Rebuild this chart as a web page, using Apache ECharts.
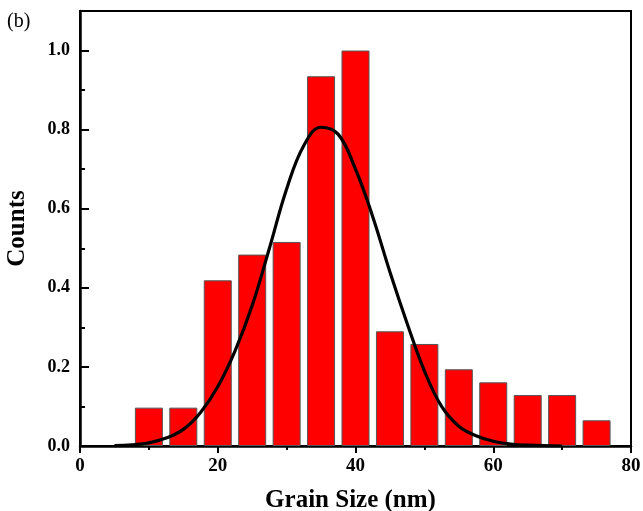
<!DOCTYPE html>
<html>
<head>
<meta charset="utf-8">
<script src="https://cdn.jsdelivr.net/npm/echarts@6/dist/echarts.min.js"></script>
<style>
  html, body { margin: 0; padding: 0; background: #fff; }
  #main { width: 643px; height: 511px; }
</style>
</head>
<body>
<div id="main"></div>
<script>
// histogram bins (nm) and normalized counts
var binCenters = [10, 15, 20, 25, 30, 35, 40, 45, 50, 55, 60, 65, 70, 75];
var binCounts = [0.097, 0.097, 0.419, 0.484, 0.516, 0.935, 1.0, 0.290, 0.258, 0.194, 0.161, 0.129, 0.129, 0.065];

// gaussian fit
var fitX = [5, 7.5, 10, 12.5, 15, 17.5, 20, 22.5, 25, 27.5, 30, 32.5, 35, 37.5, 40, 42.5, 45, 47.5, 50, 52.5, 55, 57.5, 60, 62.5, 65, 70];
var fitY = [0.001, 0.003, 0.008, 0.02, 0.042, 0.085, 0.15, 0.24, 0.355, 0.5, 0.65, 0.76, 0.806, 0.788, 0.70, 0.58, 0.44, 0.31, 0.19, 0.10, 0.05, 0.026, 0.012, 0.005, 0.002, 0.0];

var font = '"Liberation Serif", "Times New Roman", serif';

var myChart = echarts.init(document.getElementById('main'));
var option = {
	animation: false,
	grid: {
		left: 80,
		top: 11,
		right: 12,
		bottom: 65,
		containLabel: false,
		outerBoundsMode: 'none',
		show: true,
		borderColor: '#000',
		borderWidth: 2
	},
	graphic: [{
		type: 'text',
		left: 7,
		top: 12,
		style: { text: '(b)', font: '20px ' + font, fill: '#000' }
	}],
	xAxis: {
		type: 'value',
		min: 0,
		max: 80,
		interval: 20,
		name: 'Grain Size (nm)',
		nameLocation: 'middle',
		nameGap: 42,
		nameTextStyle: { fontFamily: font, fontWeight: 'bold', fontSize: 25, color: '#000', padding: [0, 10, 0, 0] },
		splitLine: { show: false },
		axisLine: { lineStyle: { color: '#000', width: 2.5 } },
		axisTick: { inside: false, length: 7, lineStyle: { color: '#000', width: 2 } },
		minorTick: { show: true, splitNumber: 2, length: 4, lineStyle: { color: '#000', width: 2 } },
		axisLabel: { fontFamily: font, fontWeight: 'bold', fontSize: 19, color: '#000', margin: 11 }
	},
	yAxis: {
		type: 'value',
		min: 0,
		max: 1.1,
		interval: 0.2,
		name: 'Counts',
		nameLocation: 'middle',
		nameGap: 50,
		nameTextStyle: { fontFamily: font, fontWeight: 'bold', fontSize: 25, color: '#000' },
		splitLine: { show: false },
		axisLine: { lineStyle: { color: '#000', width: 2.5 } },
		axisTick: { inside: true, length: 9, lineStyle: { color: '#000', width: 2 } },
		minorTick: { show: true, splitNumber: 2, length: 5, lineStyle: { color: '#000', width: 2 } },
		axisLabel: {
			fontFamily: font, fontWeight: 'bold', fontSize: 18, color: '#000', margin: 10,
			showMaxLabel: false,
			formatter: function (v) { return v.toFixed(1); }
		}
	},
	series: [
		{
			name: 'counts',
			type: 'bar',
			barWidth: 28,
			itemStyle: { color: '#ff0000', borderColor: '#555', borderWidth: 1 },
			data: binCenters.map(function (c, i) { return [c, binCounts[i]]; })
		},
		{
			name: 'fit',
			type: 'line',
			smooth: 0.4,
			showSymbol: false,
			lineStyle: { color: '#000', width: 3.2 },
			data: fitX.map(function (x, i) { return [x, fitY[i]]; })
		}
	]
};

myChart.setOption(option);
</script>
</body>
</html>
